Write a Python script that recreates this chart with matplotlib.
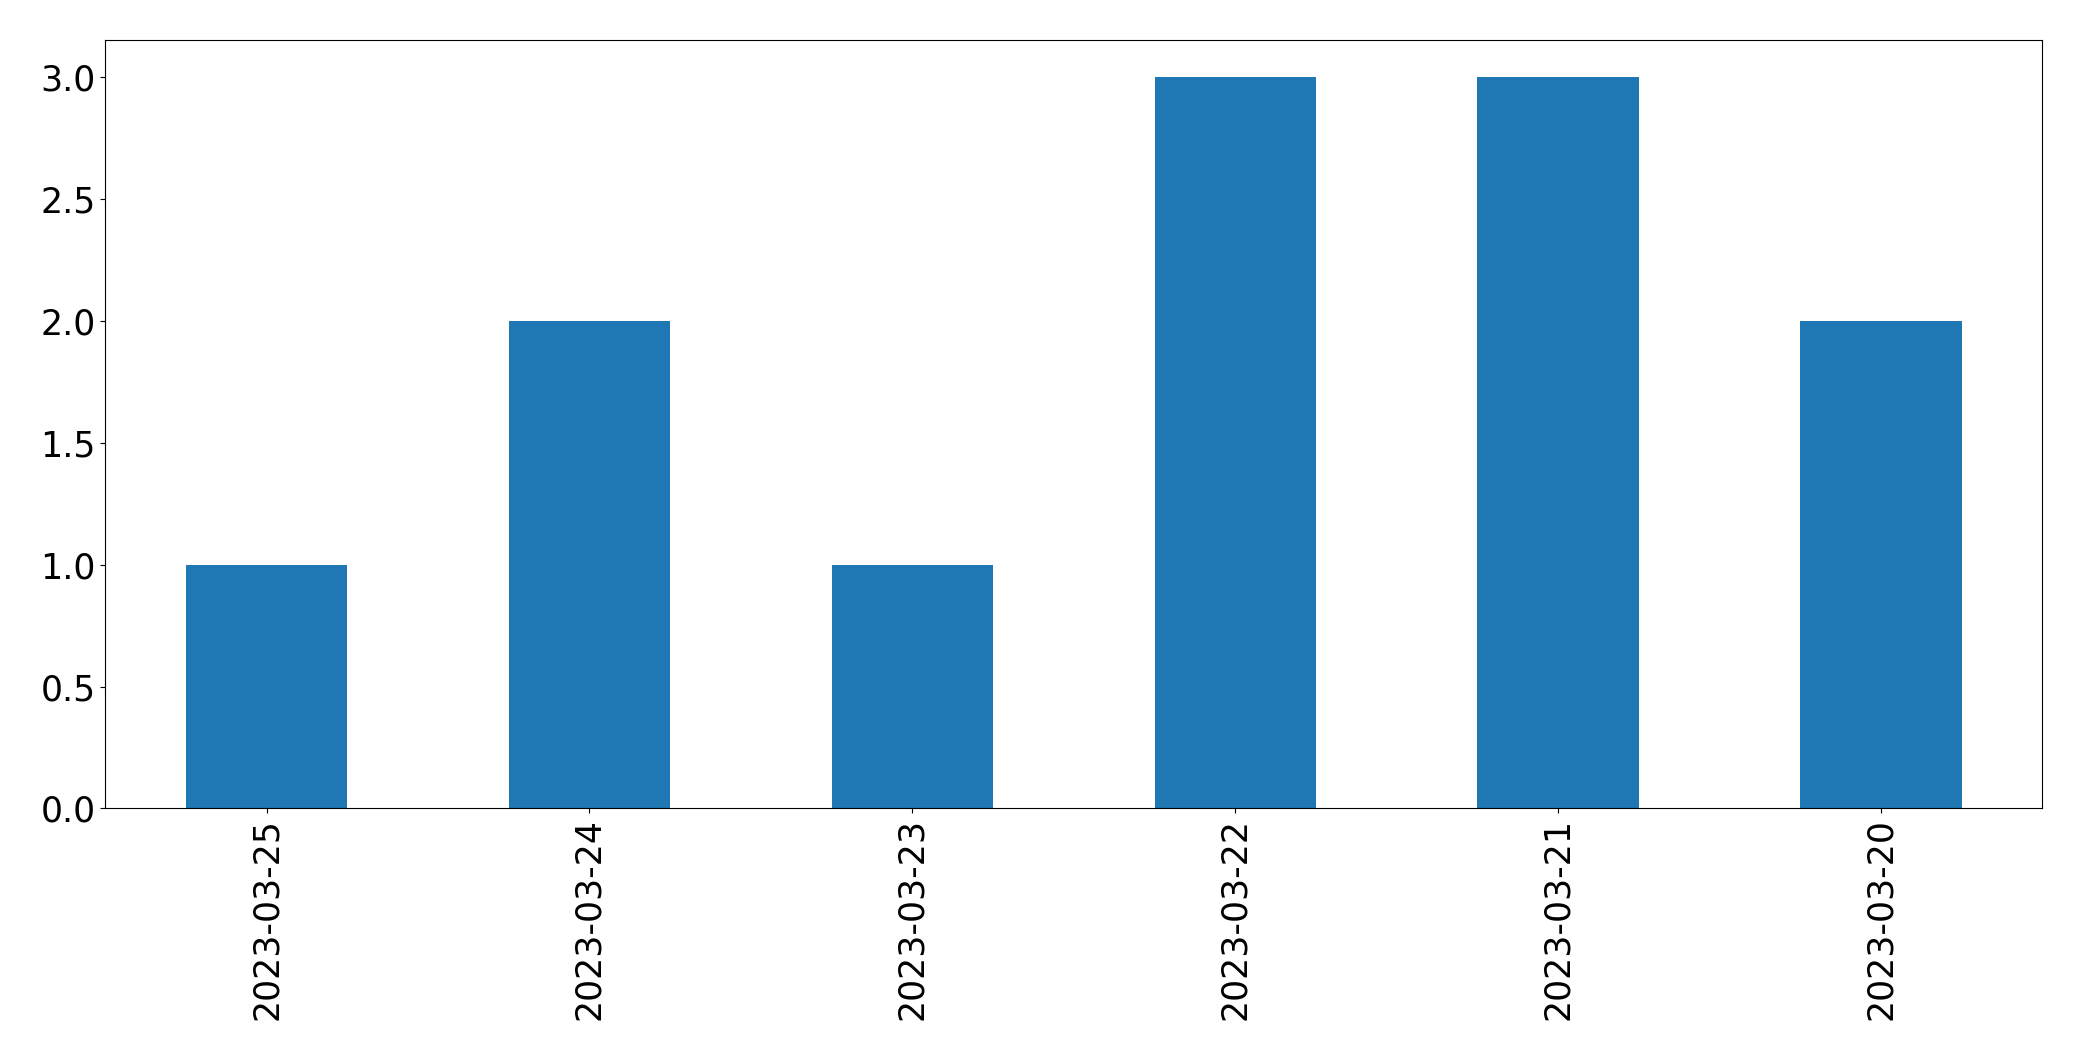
import matplotlib
matplotlib.use("Agg")
import matplotlib.pyplot as plt
import pandas as pd

dates = ["2023-03-25", "2023-03-24", "2023-03-23", "2023-03-22", "2023-03-21", "2023-03-20"]
counts = [1, 2, 1, 3, 3, 2]

s = pd.Series(counts, index=dates)

fig, ax = plt.subplots(figsize=(20.82, 10.61), dpi=100)
s.plot(kind="bar", ax=ax, color="#1f77b4", fontsize=25)
ax.tick_params(labelsize=25)
fig.subplots_adjust(left=0.0505, right=0.981, top=0.962, bottom=0.238)
fig.savefig("out.png", dpi=100)
